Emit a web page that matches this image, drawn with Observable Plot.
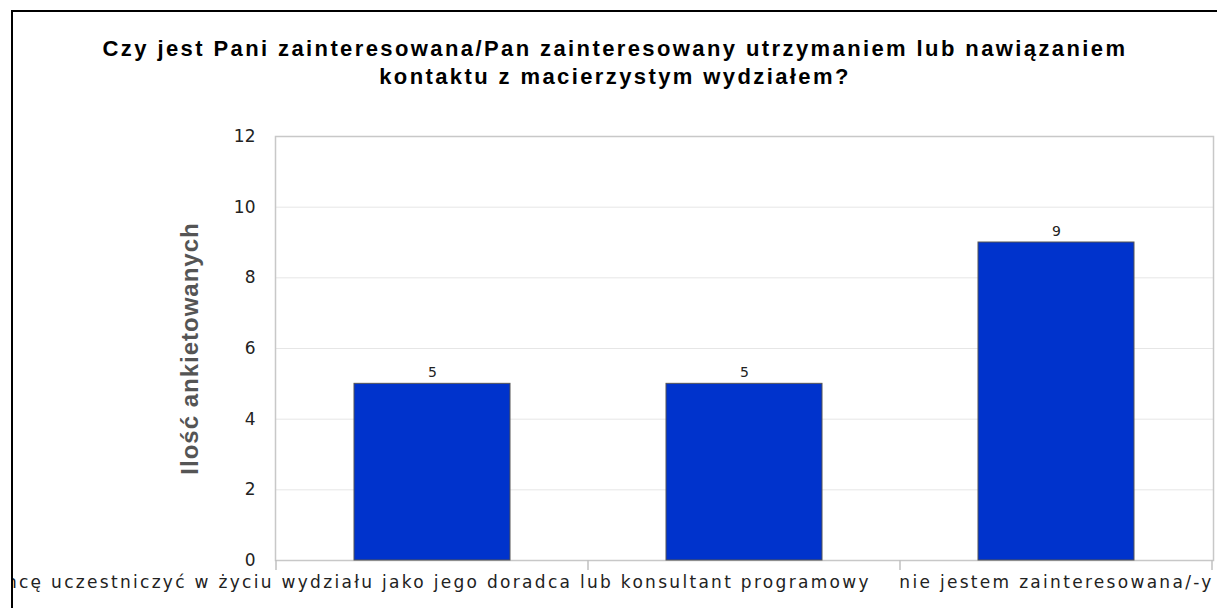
<!DOCTYPE html>
<html><head><meta charset="utf-8">
<script src="https://cdn.jsdelivr.net/npm/d3@7"></script>
<script src="https://cdn.jsdelivr.net/npm/@observablehq/plot@0.6"></script>
<style>
html,body{margin:0;background:#fff;overflow:hidden}
body{width:1217px;height:608px;position:relative}
#topline{position:absolute;left:11px;top:10px;width:1206px;height:2px;background:#000}
#leftline{position:absolute;left:11px;top:10px;width:2px;height:598px;background:#000}
#frame{position:absolute;left:13px;top:12px;width:1204px;height:596px;overflow:hidden;background:#fff}
#title{position:absolute;left:-13px;top:23px;width:1230px;text-align:center;font:bold 22px "Liberation Sans",Arial,sans-serif;letter-spacing:2.4px;line-height:28px;color:#000}
#chart{position:absolute;left:-13px;top:88px}
</style>
</head><body>
<div id="topline"></div>
<div id="leftline"></div>
<div id="frame">
  <div id="title">Czy jest Pani zainteresowana/Pan zainteresowany utrzymaniem lub nawiązaniem<br>kontaktu z macierzystym wydziałem?</div>
  <div id="chart"></div>
</div>
<script>
const categories = ["k1", "k2", "k3"];
const tickLabels = ["chcę uczestniczyć w życiu wydziału jako jego doradca lub konsultant programowy", "", "nie jestem zainteresowana/-y"];
const values = [5, 5, 9];
const yTicks = [0, 2, 4, 6, 8, 10, 12];
const yTitle = "Ilość ankietowanych";

const data = categories.map((c, i) => ({cat: c, value: values[i]}));
const labelOf = Object.fromEntries(categories.map((c, i) => [c, tickLabels[i]]));

const plot = Plot.plot({
  width: 1217,
  height: 508,
  marginLeft: 275,
  marginRight: 4,
  marginTop: 36,
  marginBottom: 48,
  style: {background: "transparent", overflow: "visible", maxWidth: "none"},
  x: {domain: categories, paddingInner: 0.5, paddingOuter: 0.25, axis: null},
  y: {domain: [0, 12], axis: null},
  marks: [
    Plot.gridY({ticks: yTicks.filter(t => t > 0 && t < 12), stroke: "#e6e6e6", strokeOpacity: 1}),
    Plot.frame({stroke: "#c8c8c8", strokeWidth: 1.5}),
    Plot.barY(data, {x: "cat", y: "value", fill: "#0033cc", stroke: "#555", strokeWidth: 1}),
    Plot.text(data, {x: "cat", y: "value", text: d => String(d.value), dy: -7, lineAnchor: "bottom", fontSize: 14, fill: "#222", fontFamily: "DejaVu Sans"}),
    Plot.axisY({ticks: yTicks, tickSize: 0, tickPadding: 20, fontSize: 17, fill: "#222", label: null, fontFamily: "DejaVu Sans"}),
    Plot.axisX({tickSize: 0, tickPadding: 15, fontSize: 17, fill: "#222", label: null, tickFormat: d => labelOf[d], fontFamily: "DejaVu Sans"}),
    Plot.text([yTitle], {frameAnchor: "left", dx: -85, rotate: -90, textAnchor: "middle", text: d => d, fontSize: 24, fontWeight: "bold", fill: "#555", fontFamily: "Liberation Sans"})
  ]
});

// wide letter spacing of the original renderer
d3.select(plot).selectAll('g[aria-label="x-axis tick label"] text').style("letter-spacing", "2.3px");
d3.select(plot).selectAll('g[aria-label="text"] text').filter(function() { return this.textContent === yTitle; }).style("letter-spacing", "1px");

// tick marks at band boundaries, from the library's x scale
const xs = plot.scale("x");
const ys = plot.scale("y");
const gap = (xs.step - xs.bandwidth) / 2;
const start = xs.apply(categories[0]) - gap;
const y0 = ys.apply(0);
const g = d3.select(plot).append("g").attr("stroke", "#c0c0c0").attr("stroke-width", 1.5);
for (let i = 0; i <= categories.length; i++) {
  const xx = start + i * xs.step;
  g.append("line").attr("x1", xx).attr("x2", xx).attr("y1", y0).attr("y2", y0 + 10);
}
document.getElementById("chart").appendChild(plot);
</script>
</body></html>
